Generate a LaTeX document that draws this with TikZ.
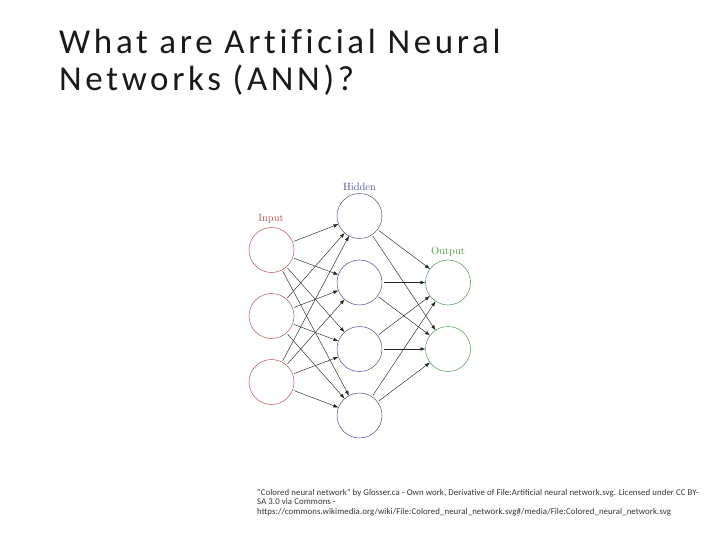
\documentclass[tikz,border=0pt]{standalone}
\usepackage{fontspec}
\setmainfont{Carlito}
\usetikzlibrary{arrows.meta}
\definecolor{inred}{RGB}{195,80,80}
\definecolor{hidblue}{RGB}{80,80,155}
\definecolor{outgreen}{RGB}{80,155,80}
\newfontfamily\lmfont{Latin Modern Roman}
\newfontfamily\titlefont[LetterSpace=10.5,Ligatures=NoCommon]{Carlito}
\newfontfamily\capfont[LetterSpace=1]{Carlito}
\tikzset{
  neuron/.style={circle, draw, line width=0.5pt, minimum size=45pt, inner sep=0pt, outer sep=0pt},
  conn/.style={line width=0.45pt, black!85, shorten <=1.5pt, -{Latex[length=5pt,width=3.6pt]}},
  layerlabel/.style={font=\lmfont\fontsize{10.5}{12}\selectfont, inner sep=0pt},
  titletext/.style={font=\titlefont\fontsize{35}{40}\selectfont, anchor=base west, inner sep=0pt, text=black!90},
  captext/.style={font=\capfont\fontsize{8.8}{10}\selectfont, anchor=base west, inner sep=0pt, text=black!80}
}
\begin{document}
\begin{tikzpicture}[x=1pt,y=-1pt]
\useasboundingbox[fill=white] (0,0) rectangle (720,540);
\node[titletext] (t1) at (59,54) {What are Artificial Neural};
\node[titletext] (t2) at (59,91) {Networks (ANN)?};

\foreach \n/\y in {1/250,2/316,3/382}
  \node[neuron, draw=inred] (i\n) at (271.5,\y) {};
\foreach \n/\y in {1/216,2/282.5,3/349,4/415.5}
  \node[neuron, draw=hidblue] (h\n) at (359.5,\y) {};
\foreach \n/\y in {1/282.5,2/349}
  \node[neuron, draw=outgreen] (o\n) at (448,\y) {};

\node[layerlabel, text=inred] (li) at (271,219) {Input};
\node[layerlabel, text=hidblue] (lh) at (359.5,187) {Hidden};
\node[layerlabel, text=outgreen] (lo) at (448,252) {Output};

\foreach \a in {1,2,3}
  \foreach \b in {1,2,3,4}
    \draw[conn] (i\a) -- (h\b);
\foreach \a in {1,2,3,4}
  \foreach \b in {1,2}
    \draw[conn] (h\a) -- (o\b);

\node[captext] (c1) at (257,495) {"Colored neural network" by Glosser.ca - Own work, Derivative of File:Artificial neural network.svg. Licensed under CC BY-};
\node[captext] (c2) at (257,504.5) {SA 3.0 via Commons -};
\node[captext] (c3) at (257,514) {https://commons.wikimedia.org/wiki/File:Colored\_neural\_network.svg\#/media/File:Colored\_neural\_network.svg};
\end{tikzpicture}
\end{document}
